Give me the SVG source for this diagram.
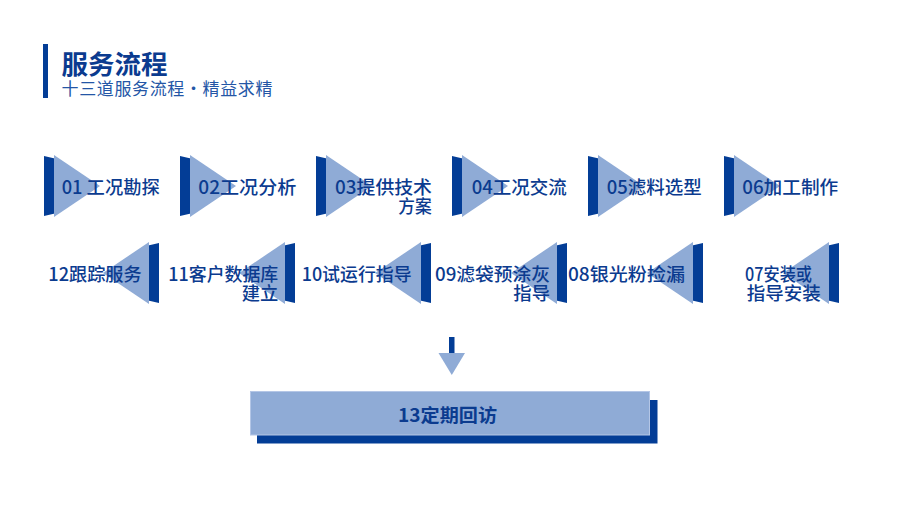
<svg xmlns="http://www.w3.org/2000/svg" width="900" height="506" viewBox="0 0 900 506">
<style>
.dk{fill:#033d96}
.lt{fill:#8fabd6}
.lb{font-family:"Noto Sans CJK SC","Noto Sans",sans-serif;font-size:18px;fill:#0b3b8f;font-weight:500}
.tt{font-family:"Noto Sans CJK SC","Noto Sans",sans-serif;font-size:26px;font-weight:700;fill:#0b3b8f}
.st{font-family:"Noto Sans CJK SC","Noto Sans",sans-serif;font-size:17px;fill:#2456a6}
</style>
<defs>
<g id="fwd">
<polygon class="dk" points="0,1 13,4 13,58 0,61"/>
<polygon class="lt" points="10,0 10,62 56,31"/>
</g>
<g id="bwd">
<polygon class="dk" points="0,1 -13,4 -13,58 0,61"/>
<polygon class="lt" points="-10,0 -10,62 -56,31"/>
</g>
</defs>
<rect x="0" y="0" width="900" height="506" fill="#ffffff"/>
<g id="title">
<rect class="dk" x="43" y="44" width="5" height="54"/>
<text class="tt" x="61.5" y="74" textLength="106" lengthAdjust="spacingAndGlyphs">服务流程</text>
<text class="st" x="61.5" y="94.5" textLength="211" lengthAdjust="spacing">十三道服务流程·精益求精</text>
</g>
<g id="n01"><use href="#fwd" x="44" y="155"/><text class="lb" x="61.7" y="193.5" textLength="98" lengthAdjust="spacingAndGlyphs">01 工况勘探</text></g>
<g id="n02"><use href="#fwd" x="180" y="155"/><text class="lb" x="198.3" y="193.5" textLength="98" lengthAdjust="spacingAndGlyphs">02工况分析</text></g>
<g id="n03"><use href="#fwd" x="316" y="155"/><text class="lb" x="335" y="193.5" textLength="97" lengthAdjust="spacingAndGlyphs">03提供技术</text><text class="lb" x="398.3" y="212.5" textLength="33.4" lengthAdjust="spacingAndGlyphs">方案</text></g>
<g id="n04"><use href="#fwd" x="452" y="155"/><text class="lb" x="471.7" y="193.5" textLength="95" lengthAdjust="spacingAndGlyphs">04工况交流</text></g>
<g id="n05"><use href="#fwd" x="588" y="155"/><text class="lb" x="606.7" y="193.5" textLength="95" lengthAdjust="spacingAndGlyphs">05滤料选型</text></g>
<g id="n06"><use href="#fwd" x="724" y="155"/><text class="lb" x="742.3" y="193.5" textLength="96" lengthAdjust="spacingAndGlyphs">06加工制作</text></g>
<g id="n07"><use href="#bwd" x="839" y="242"/><text class="lb" x="745" y="281" textLength="67" lengthAdjust="spacingAndGlyphs">07安装或</text><text class="lb" x="746.7" y="299.5" textLength="74" lengthAdjust="spacingAndGlyphs">指导安装</text></g>
<g id="n08"><use href="#bwd" x="703" y="242"/><text class="lb" x="568" y="281" textLength="117" lengthAdjust="spacingAndGlyphs">08银光粉捡漏</text></g>
<g id="n09"><use href="#bwd" x="567" y="242"/><text class="lb" x="435" y="281" textLength="115" lengthAdjust="spacingAndGlyphs">09滤袋预涂灰</text><text class="lb" x="513.3" y="299.5" textLength="36.7" lengthAdjust="spacingAndGlyphs">指导</text></g>
<g id="n10"><use href="#bwd" x="431" y="242"/><text class="lb" x="301.7" y="281" textLength="110" lengthAdjust="spacingAndGlyphs">10试运行指导</text></g>
<g id="n11"><use href="#bwd" x="295" y="242"/><text class="lb" x="168.3" y="281" textLength="110" lengthAdjust="spacingAndGlyphs">11客户数据库</text><text class="lb" x="241.7" y="299.5" textLength="36.6" lengthAdjust="spacingAndGlyphs">建立</text></g>
<g id="n12"><use href="#bwd" x="159" y="242"/><text class="lb" x="48.3" y="281" textLength="93.4" lengthAdjust="spacingAndGlyphs">12跟踪服务</text></g>
<g id="connectors">
<rect class="dk" x="449" y="337" width="5.5" height="17"/>
<polygon class="lt" points="438.5,353 465,353 451.8,375"/>
</g>
<g id="n13">
<rect class="dk" x="257" y="400" width="400.5" height="43.5"/>
<rect class="lt" x="250.5" y="391.5" width="399" height="43.5" stroke="#b4c6e6" stroke-width="1"/>
<text class="lb" x="398" y="421.5" font-weight="700" textLength="99" lengthAdjust="spacingAndGlyphs" style="font-weight:700">13定期回访</text>
</g>
</svg>
